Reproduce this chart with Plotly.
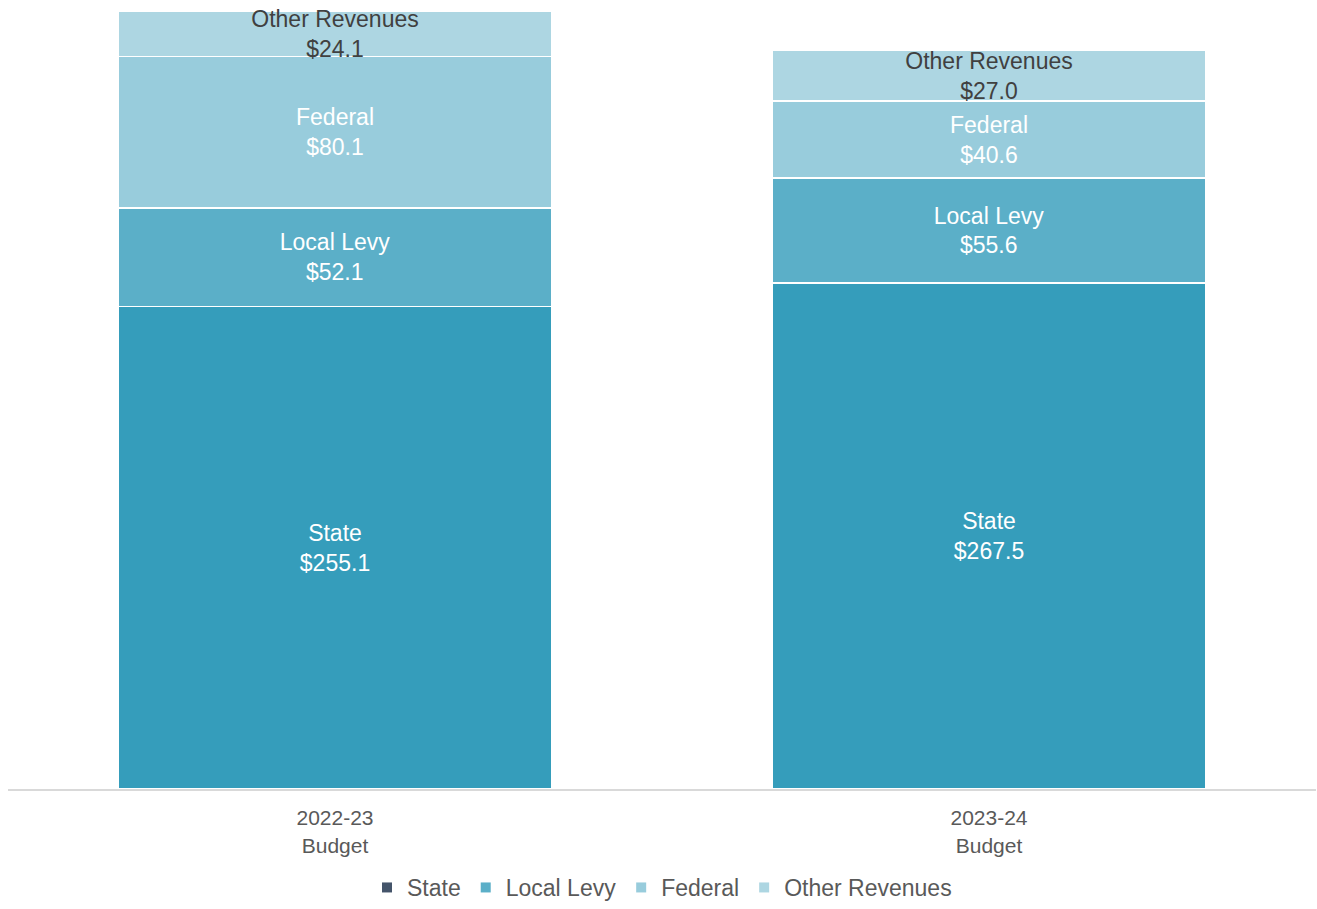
import plotly.graph_objects as go

# Revenue sources by budget year ($ millions)
years = ["2022-23<br>Budget", "2023-24<br>Budget"]
sources = ["State", "Local Levy", "Federal", "Other Revenues"]
state = [255.1, 267.5]
local_levy = [52.1, 55.6]
federal = [80.1, 40.6]
other_revenues = [24.1, 27.0]

series = [state, local_levy, federal, other_revenues]
bar_colors = ["#359DBB", "#5BAFC8", "#98CCDC", "#ADD6E2"]
legend_colors = ["#44546A", "#5BAFC8", "#98CCDC", "#ADD6E2"]
text_colors = ["#FFFFFF", "#FFFFFF", "#FFFFFF", "#404040"]

fig = go.Figure()

for name, vals, color, tcolor in zip(sources, series, bar_colors, text_colors):
    fig.add_trace(go.Bar(
        x=years,
        y=vals,
        name=name,
        marker=dict(color=color, line=dict(color="#FFFFFF", width=1.5)),
        text=[f"{name}<br>${v:.1f}" for v in vals],
        textposition="inside",
        insidetextanchor="middle",
        constraintext="none",
        textfont=dict(family="Liberation Sans, Arial, sans-serif", size=23, color=tcolor),
        textangle=0,
        showlegend=False,
        hoverinfo="skip",
    ))

# Legend entries drawn as square swatches
for name, color in zip(sources, legend_colors):
    fig.add_trace(go.Scatter(
        x=[None], y=[None],
        mode="markers",
        name=name,
        marker=dict(symbol="square", size=10, color=color),
        showlegend=True,
    ))

fig.update_layout(
    width=1317,
    height=909,
    barmode="stack",
    bargap=0.336,
    plot_bgcolor="#FFFFFF",
    paper_bgcolor="#FFFFFF",
    margin=dict(l=8, r=1, t=0, b=120, autoexpand=False),
    font=dict(family="Liberation Sans, Arial, sans-serif", color="#595959"),
    legend=dict(
        orientation="h",
        traceorder="normal",
        x=0.5, xanchor="center",
        yref="container",
        y=-0.006, yanchor="bottom",
        font=dict(size=23, color="#595959"),
        itemwidth=30,
        tracegroupgap=0,
    ),
)

fig.update_xaxes(
    showline=True,
    linecolor="#D9D9D9",
    linewidth=2,
    ticks="",
    ticklabelstandoff=9,
    tickfont=dict(size=21, color="#595959"),
    showgrid=False,
)
fig.update_yaxes(
    range=[0, 417.2],
    visible=False,
    showgrid=False,
)

fig.write_html("out.html")
